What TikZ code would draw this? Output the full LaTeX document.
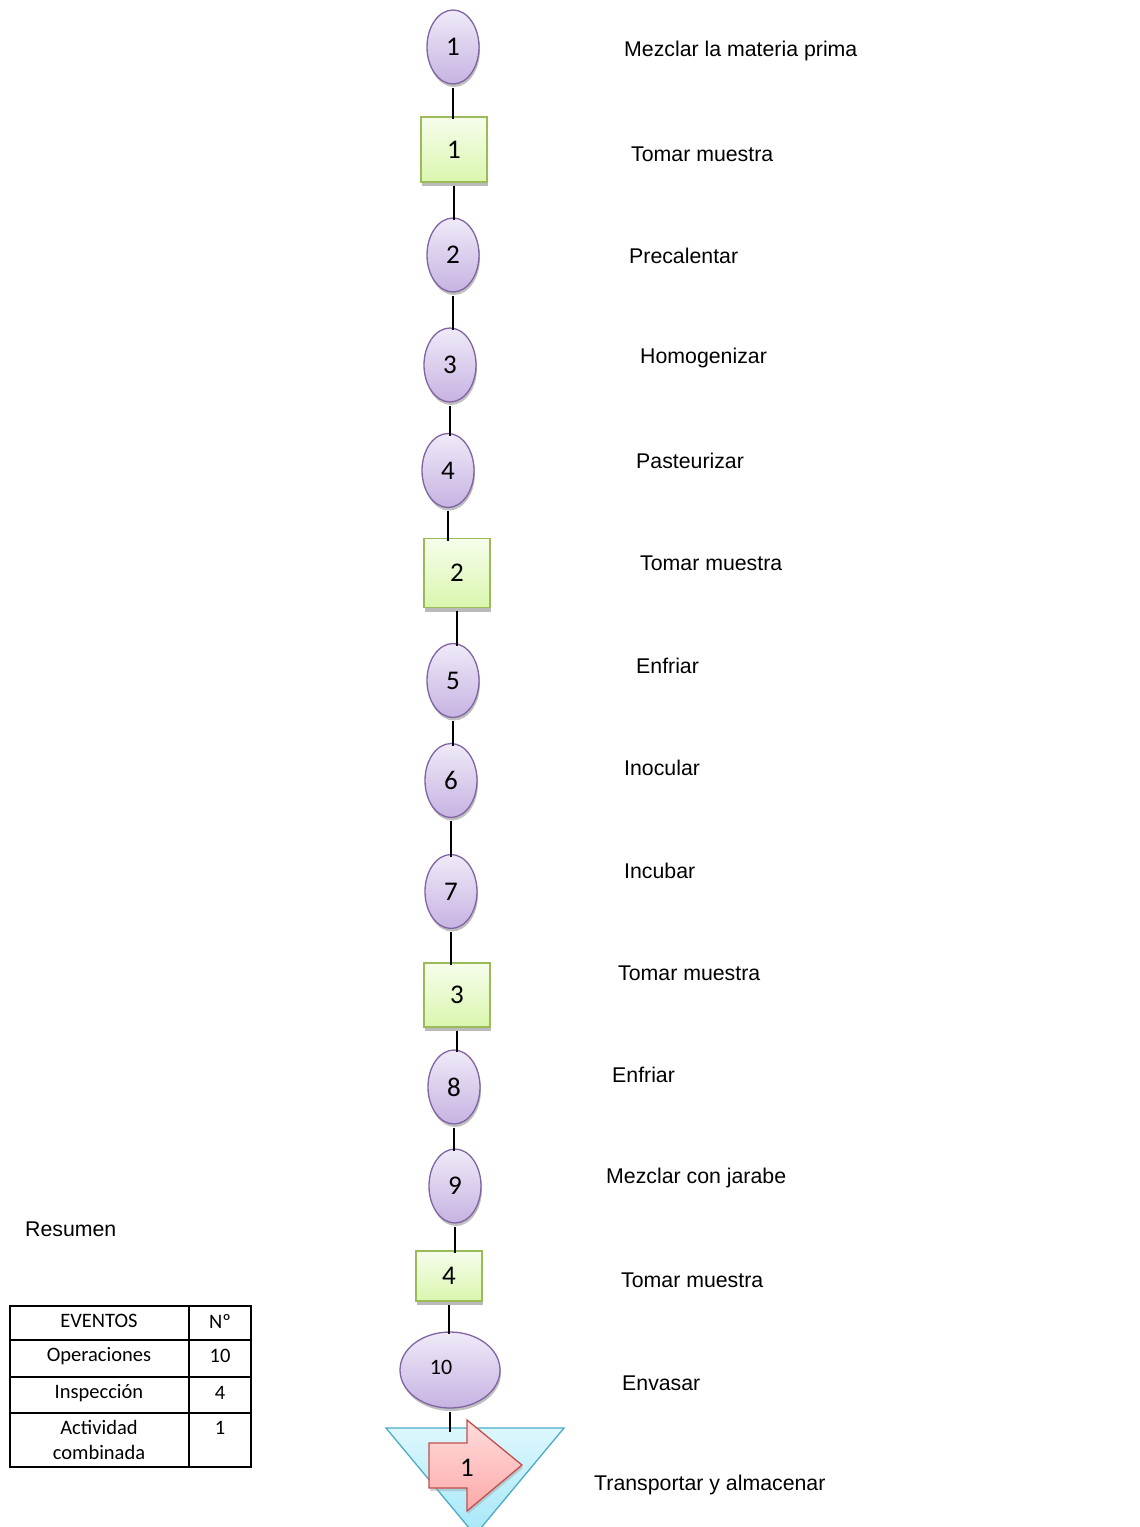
\documentclass[tikz,border=0pt]{standalone}
\usepackage{fontspec}
\setmainfont{Liberation Sans}
\newfontfamily\calib{Carlito}
\usetikzlibrary{shapes.geometric,shadows}
\definecolor{opline}{HTML}{8064A2}
\definecolor{optop}{HTML}{F0EAF8}
\definecolor{opbot}{HTML}{C6B3E2}
\definecolor{inline}{HTML}{9BBB59}
\definecolor{intop}{HTML}{F6FDEC}
\definecolor{inbot}{HTML}{DAF6AE}
\definecolor{trline}{HTML}{4BACC6}
\definecolor{trtop}{HTML}{DDF7FD}
\definecolor{trbot}{HTML}{A5E7F8}
\definecolor{arline}{HTML}{C0504D}
\definecolor{artop}{HTML}{FFDCDC}
\definecolor{arbot}{HTML}{FFA9A9}
\begin{document}
\begin{tikzpicture}[x=1pt,y=-1pt,
  op/.style={ellipse, draw=opline, line width=1.3pt, top color=optop, bottom color=opbot,
    minimum width=52pt, minimum height=74pt, inner sep=0pt,
    font=\calib\fontsize{27}{27}\selectfont,
    drop shadow={shadow xshift=1pt, shadow yshift=-3pt, fill=black!50, opacity=0.5}},
  insp/.style={rectangle, draw=inline, line width=1.3pt, top color=intop, bottom color=inbot,
    minimum width=66pt, inner sep=0pt,
    font=\calib\fontsize{27}{27}\selectfont,
    drop shadow={shadow xshift=1pt, shadow yshift=-4pt, fill=black!45, opacity=0.6}},
  lbl/.style={anchor=west, inner sep=0pt, font=\fontsize{21.3}{21.3}\selectfont},
  flow/.style={line width=2pt},
  cell/.style={inner sep=0pt, font=\calib\fontsize{20.5}{25}\selectfont, align=center}]
\clip (0,0) rectangle (1140,1527);
\fill[white] (0,0) rectangle (1140,1527);

% process symbols, top to bottom
\node[op] (o1) at (453,47) {1};
\node[insp, minimum height=65pt] (i1) at (454,149.5) {1};
\node[op] (o2) at (453,255) {2};
\node[op] (o3) at (450,365) {3};
\node[op] (o4) at (448,470.5) {4};
\node[insp, minimum height=69pt] (i2) at (457,573) {2};
\node[op] (o5) at (453,680.5) {5};
\node[op] (o6) at (451,780.5) {6};
\node[op] (o7) at (451,891.5) {7};
\node[insp, minimum height=64pt] (i3) at (457,995) {3};
\node[op] (o8) at (454,1087) {8};
\node[op] (o9) at (455,1186) {9};
\node[insp, minimum height=50pt] (i4) at (449,1276) {4};
\node[op, minimum width=100pt, minimum height=76pt] (o10) at (450,1370) {};
\node[font=\calib\fontsize{22}{22}\selectfont, inner sep=0pt] (n10) at (441,1367) {10};

% combined activity: transport and storage
\path[draw=trline, line width=1.3pt, top color=trtop, bottom color=trbot]
  (386,1428) -- (564,1428) -- (475,1535) -- cycle;
\path[draw=arline, line width=1.3pt, top color=artop, bottom color=arbot,
  drop shadow={shadow xshift=1pt, shadow yshift=-3pt, fill=black!40, opacity=0.4}]
  (429,1443) -- (467,1443) -- (467,1420) -- (522,1465) -- (467,1511) -- (467,1488) -- (429,1488) -- cycle;
\node[font=\calib\fontsize{27}{27}\selectfont, inner sep=0pt] (t1) at (467,1468) {1};
\coordinate (ttop) at (449,1432);

% connectors (vertical, from each symbol down to the next)
\foreach \a/\b in {o1/i1, i1/o2, o2/o3, o3/o4, o4/i2, i2/o5, o5/o6, o6/o7,
                   o7/i3, i3/o8, o8/o9, o9/i4, i4/o10}
  \draw[flow] ([yshift=-3pt]\a.south) -- ([yshift=-3pt]\a.south |- \b.north);
\draw[flow] ([yshift=-3pt]o10.south) -- (o10.south |- ttop);

% step descriptions
\node[lbl] (d1) at (624,51) {Mezclar la materia prima};
\node[lbl] (d2) at (631,154) {Tomar muestra};
\node[lbl] (d3) at (629,256) {Precalentar};
\node[lbl] (d4) at (640,358) {Homogenizar};
\node[lbl] (d5) at (636,461) {Pasteurizar};
\node[lbl] (d6) at (640,563) {Tomar muestra};
\node[lbl] (d7) at (636,666) {Enfriar};
\node[lbl] (d8) at (624,768) {Inocular};
\node[lbl] (d9) at (624,871) {Incubar};
\node[lbl] (d10) at (618,973) {Tomar muestra};
\node[lbl] (d11) at (612,1075) {Enfriar};
\node[lbl] (d12) at (606,1178) {Mezclar con jarabe};
\node[lbl] (d13) at (621,1280) {Tomar muestra};
\node[lbl] (d14) at (622,1383) {Envasar};
\node[lbl] (d15) at (594,1485) {Transportar y almacenar};

% summary table
\node[lbl] (res) at (25,1229) {Resumen};
\draw[line width=1.4pt] (10,1306) rectangle (251,1467);
\draw[line width=1.4pt] (10,1340) -- (251,1340) (10,1377) -- (251,1377) (10,1413) -- (251,1413)
  (189,1306) -- (189,1467);
\node[cell] (c11) at (99,1321) {EVENTOS};
\node[cell] (c12) at (220,1321) {Nº};
\node[cell] (c21) at (99,1356) {Operaciones};
\node[cell] (c22) at (220,1356) {10};
\node[cell] (c31) at (99,1393) {Inspección};
\node[cell] (c32) at (220,1393) {4};
\node[cell] (c41) at (99,1440) {Actividad\\combinada};
\node[cell] (c42) at (220,1428) {1};
\end{tikzpicture}
\end{document}
